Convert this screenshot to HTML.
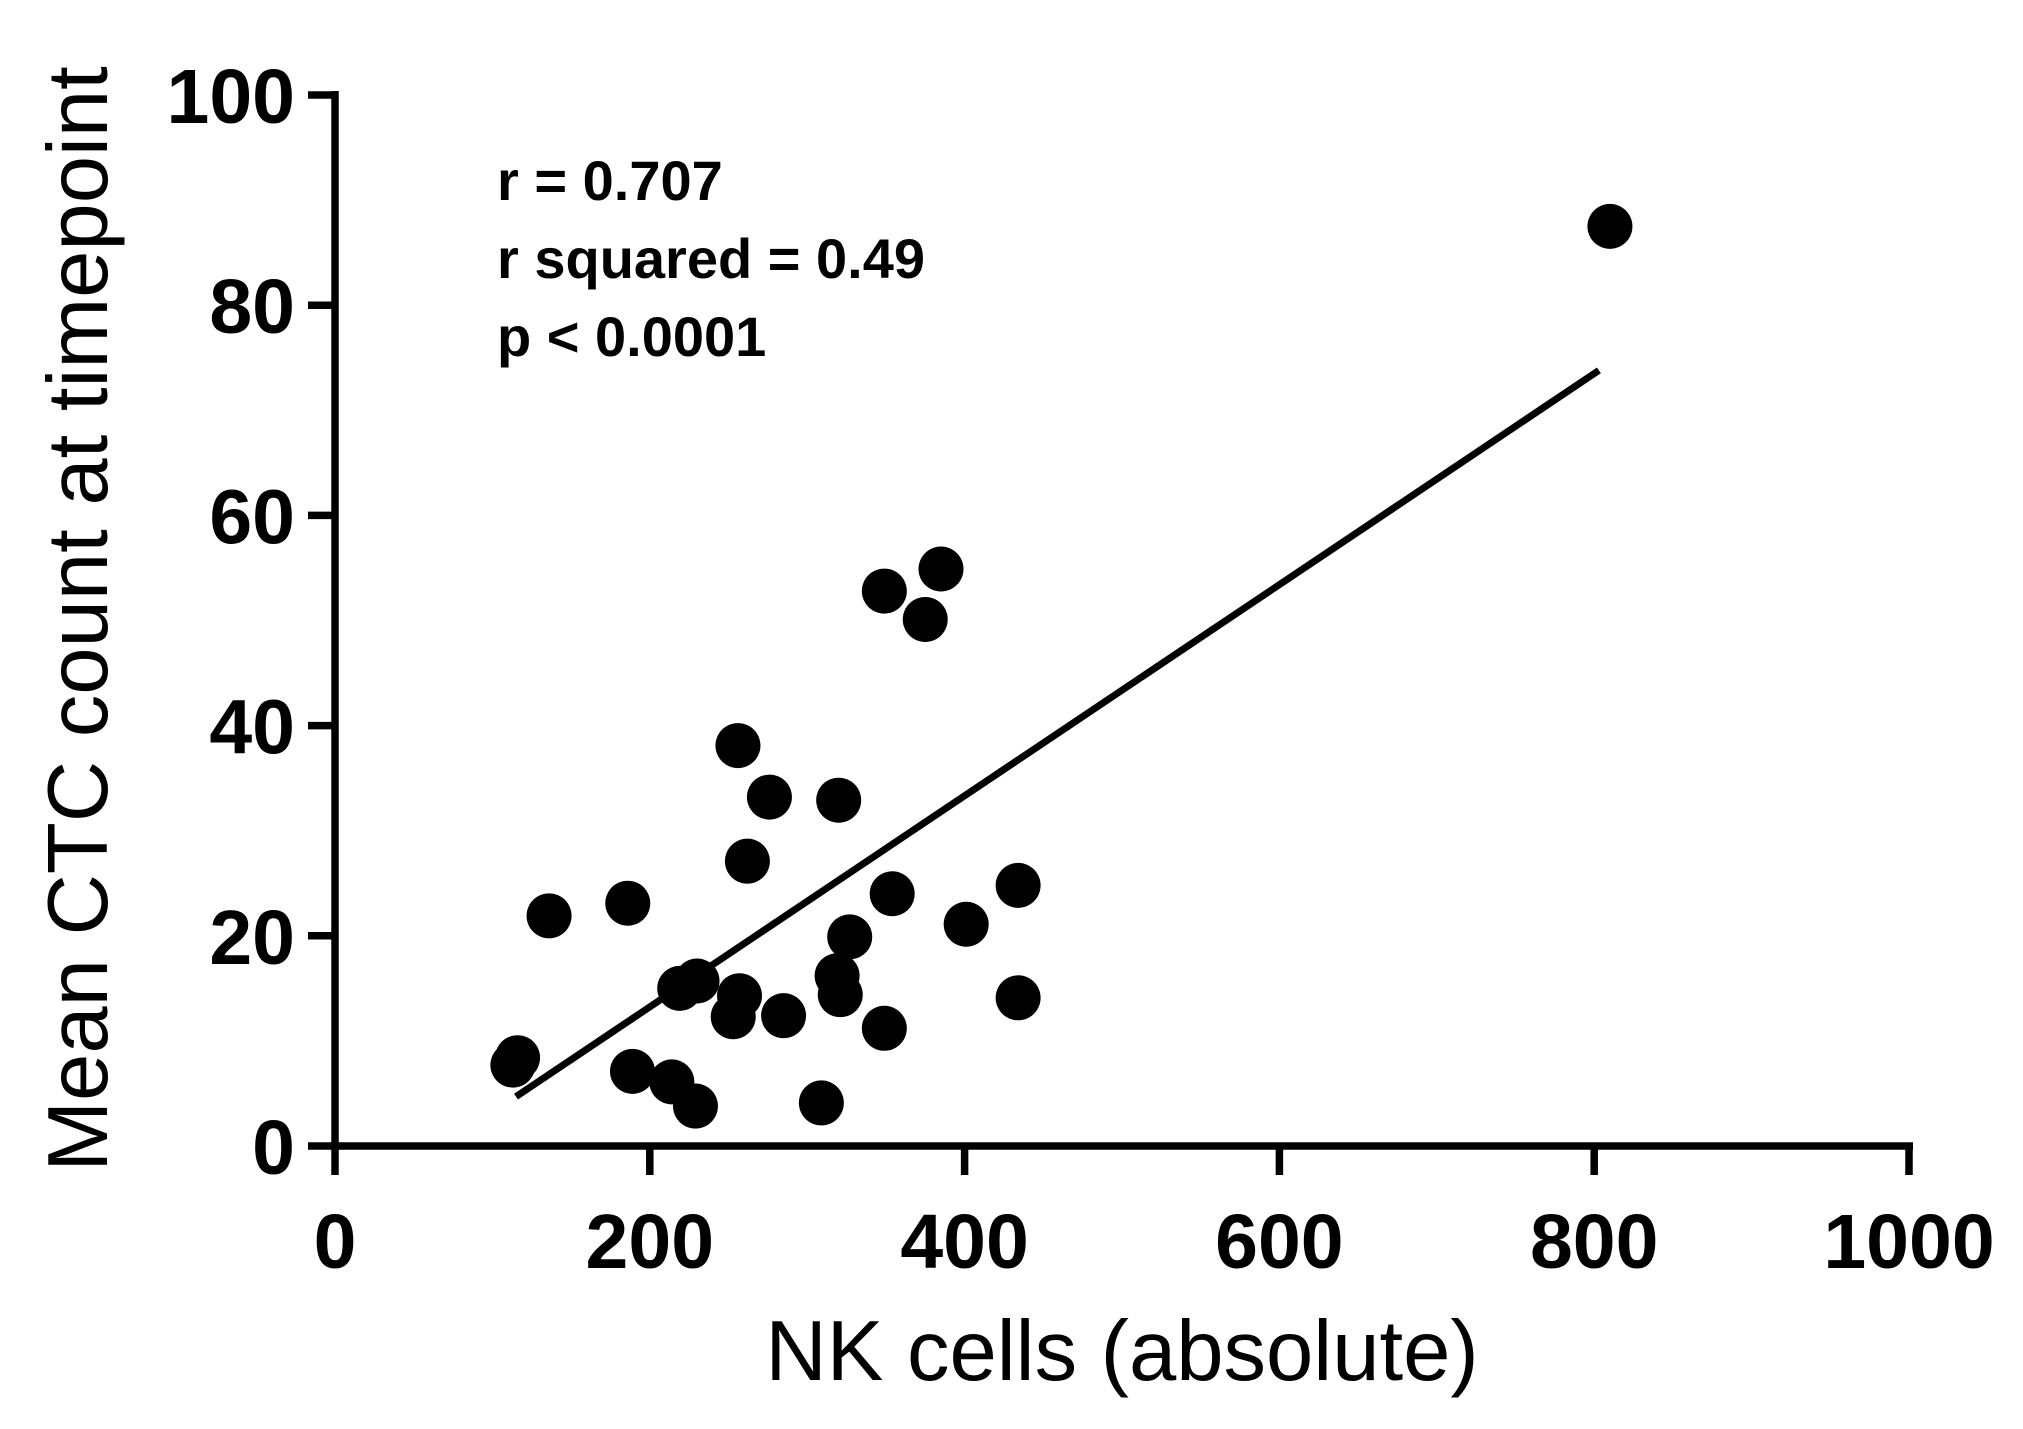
<!DOCTYPE html>
<html><head><meta charset="utf-8"><style>body{margin:0;background:#fff}svg{display:block}</style></head>
<body>
<svg id="chart" width="2023" height="1429" viewBox="0 0 2023 1429" xmlns="http://www.w3.org/2000/svg"></svg>
<script>
const xValues=[116,113,136,186,189,214,229,219,230,256,262,276,257,253,285,320,319,321,327,309,349,385,375,354,349,401,434,434,810];
const yValues=[8.4,7.7,21.9,23.1,7.1,6.1,3.8,15,15.7,38.1,27.1,33.2,14.3,12.3,12.4,32.9,16.2,14.4,19.9,4.1,52.8,54.9,50.1,24,11.2,21.1,24.8,14.1,87.5];
const xTicks=[0,200,400,600,800,1000];
const yTicks=[0,20,40,60,80,100];
const fitLine=[[115,4.7],[803,73.8]];
const annotations=["r = 0.707","r squared = 0.49","p < 0.0001"];

const svg=document.getElementById('chart');
const NS='http://www.w3.org/2000/svg';
const X0=335,X1=1909,Y0=1146,Y1=95;
const sx=v=>X0+(v-0)/(1000-0)*(X1-X0);
const sy=v=>Y0-(v-0)/(100-0)*(Y0-Y1);
function mk(t,a,txt){const e=document.createElementNS(NS,t);for(const k in a)e.setAttribute(k,a[k]);if(txt!==undefined)e.textContent=txt;svg.appendChild(e);return e;}

let e;
e=mk('line',{x1:X0,y1:Y1-4,x2:X0,y2:Y0+4,stroke:'#000','stroke-width':7.5});


e=mk('line',{x1:X0-4,y1:Y0,x2:X1+4,y2:Y0,stroke:'#000','stroke-width':7.5});



yTicks.forEach(v=>{
  let t=mk('line',{x1:X0-27,y1:sy(v),x2:X0,y2:sy(v),stroke:'#000','stroke-width':7.5});
  
  
  let l=mk('text',{x:X0-40,y:sy(v)+28,'text-anchor':'end','font-family':'Liberation Sans, sans-serif','font-weight':'bold','font-size':77},String(v));
  
  
});
xTicks.forEach(v=>{
  let t=mk('line',{x1:sx(v),y1:Y0,x2:sx(v),y2:Y0+29,stroke:'#000','stroke-width':7.5});
  
  
  let l=mk('text',{x:sx(v),y:1268,'text-anchor':'middle','font-family':'Liberation Sans, sans-serif','font-weight':'bold','font-size':77},String(v));
  
  
});

e=mk('text',{x:1122,y:1380,'text-anchor':'middle','font-family':'Liberation Sans, sans-serif','font-size':85},'NK cells (absolute)');


e=mk('text',{x:0,y:0,'text-anchor':'middle','font-family':'Liberation Sans, sans-serif','font-size':85,transform:'translate(107,619) rotate(-90)'},'Mean CTC count at timepoint');



e=mk('line',{x1:sx(fitLine[0][0]),y1:sy(fitLine[0][1]),x2:sx(fitLine[1][0]),y2:sy(fitLine[1][1]),stroke:'#000','stroke-width':7});



xValues.forEach((v,i)=>{
  let c=mk('circle',{cx:sx(v),cy:sy(yValues[i]),r:22.5,fill:'#000'});
  
  
});

annotations.forEach((s,i)=>{
  let t=mk('text',{x:497,y:200+i*78,'font-family':'Liberation Sans, sans-serif','font-weight':'bold','font-size':56},s);
  
  
});
</script>
</body></html>
